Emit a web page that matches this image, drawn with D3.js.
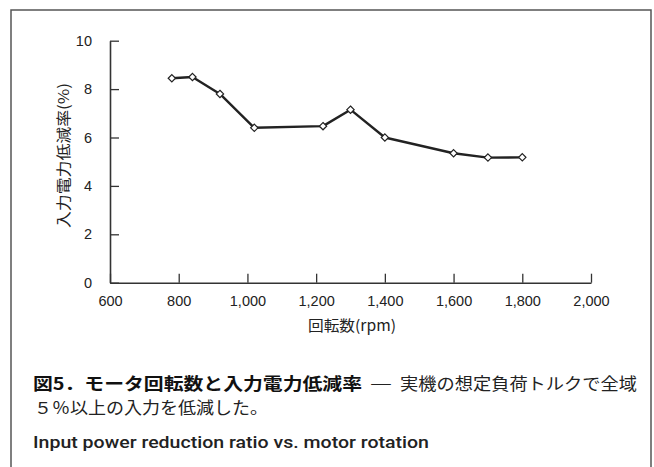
<!DOCTYPE html>
<html><head><meta charset="utf-8">
<script src="https://cdn.jsdelivr.net/npm/d3@7"></script>
<style>
html,body{margin:0;padding:0;background:#fff;}
svg{display:block;}
</style></head>
<body>
<svg id="chart" width="654" height="467"></svg>
<script>
const rpm = [780, 840, 920, 1020, 1220, 1300, 1400, 1600, 1700, 1800];
const reduction = [8.45, 8.5, 7.8, 6.4, 6.47, 7.15, 6.0, 5.35, 5.17, 5.18];
const xTicks = [600, 800, 1000, 1200, 1400, 1600, 1800, 2000];
const yTicks = [0, 2, 4, 6, 8, 10];
const xTitle = "回転数(rpm)";
const yTitle = "入力電力低減率(%)";
const captionBold = "図5．モータ回転数と入力電力低減率";
const captionDash = "—";
const captionRest1 = "実機の想定負荷トルクで全域";
const captionLine2 = "５％以上の入力を低減した。";
const captionEn = "Input power reduction ratio vs. motor rotation";

const svg = d3.select("#chart");
const sans = "'Liberation Sans', Arial, sans-serif";
const cjk = "'Noto Sans CJK JP', sans-serif";

// frame
svg.append("rect").attr("x", 11).attr("y", 10).attr("width", 640).attr("height", 480)
  .attr("fill", "none").attr("stroke", "#555").attr("stroke-width", 1.5);

const x = d3.scaleLinear().domain([600, 2000]).range([110, 591]);
const y = d3.scaleLinear().domain([0, 10]).range([282.7, 40.7]);

const xAxis = d3.axisBottom(x).tickValues(xTicks).tickSizeInner(-9).tickSizeOuter(0)
  .tickPadding(13).tickFormat(d3.format(","));
const yAxis = d3.axisLeft(y).tickValues(yTicks).tickSizeInner(-9).tickSizeOuter(0)
  .tickPadding(18);

const gx = svg.append("g").attr("transform", `translate(0,${y(0)})`).call(xAxis);
const gy = svg.append("g").attr("transform", `translate(${x(600)},0)`).call(yAxis);
[gx, gy].forEach(g => {
  g.select(".domain").attr("stroke", "#333").attr("stroke-width", 1.6);
  g.selectAll(".tick line").attr("stroke", "#333").attr("stroke-width", 1.3);
  g.selectAll(".tick text").attr("font-family", sans).attr("font-size", 14.5).attr("fill", "#222");
});
gx.selectAll(".tick text").attr("dy", "0.71em");

// line
const line = d3.line().x((d, i) => x(rpm[i])).y(d => y(d));
svg.append("path").datum(reduction).attr("d", line)
  .attr("fill", "none").attr("stroke", "#222").attr("stroke-width", 2.4).attr("stroke-linejoin", "round");

// markers
const sym = d3.symbol().type(d3.symbolDiamond2).size(34);
svg.selectAll(".pt").data(reduction).enter().append("path")
  .attr("transform", (d, i) => `translate(${x(rpm[i])},${y(d)})`)
  .attr("d", sym).attr("fill", "#fff").attr("stroke", "#222").attr("stroke-width", 1.2);

// axis titles
svg.append("text").attr("x", 352).attr("y", 331).attr("text-anchor", "middle")
  .attr("font-family", cjk).attr("font-size", 15).attr("fill", "#222")
  .attr("textLength", 88).attr("lengthAdjust", "spacingAndGlyphs").text(xTitle);
svg.append("text").attr("transform", "translate(69,155.5) rotate(-90)").attr("text-anchor", "middle")
  .attr("font-family", cjk).attr("font-size", 15).attr("fill", "#222")
  .attr("textLength", 145).attr("lengthAdjust", "spacingAndGlyphs").text(yTitle);

// caption
svg.append("text").attr("x", 33).attr("y", 390).attr("font-family", cjk).attr("font-weight", "bold")
  .attr("font-size", 17).attr("fill", "#111").attr("textLength", 329).attr("lengthAdjust", "spacingAndGlyphs")
  .text(captionBold);
svg.append("text").attr("x", 370).attr("y", 389).attr("font-family", cjk)
  .attr("font-size", 16.5).attr("fill", "#222").attr("textLength", 22).attr("lengthAdjust", "spacingAndGlyphs")
  .text(captionDash);
svg.append("text").attr("x", 400).attr("y", 390).attr("font-family", cjk)
  .attr("font-size", 16.5).attr("fill", "#222").attr("textLength", 237).attr("lengthAdjust", "spacingAndGlyphs")
  .text(captionRest1);
svg.append("text").attr("x", 34).attr("y", 414).attr("font-family", cjk)
  .attr("font-size", 16.5).attr("fill", "#222").attr("textLength", 234).attr("lengthAdjust", "spacingAndGlyphs")
  .text(captionLine2);
svg.append("text").attr("x", 33).attr("y", 448).attr("font-family", "Roboto, 'Liberation Sans', sans-serif").attr("font-weight", 500)
  .attr("font-size", 16.5).attr("fill", "#222").attr("textLength", 396).attr("lengthAdjust", "spacingAndGlyphs")
  .text(captionEn);
</script>
</body></html>
